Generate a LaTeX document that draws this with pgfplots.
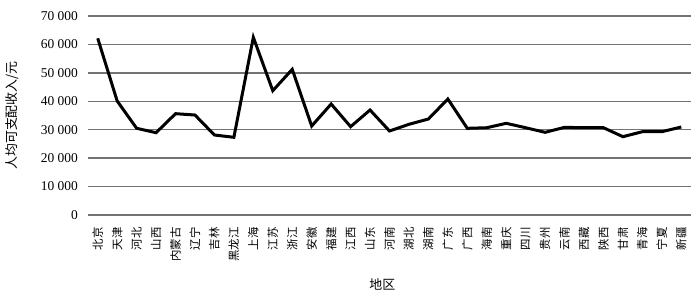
\documentclass[border=0pt]{standalone}
\usepackage{fontspec}
\setmainfont{Liberation Serif}
\newfontfamily\cjk{Noto Sans CJK SC}
\usepackage{pgfplots}
\pgfplotsset{compat=1.18}
\begin{document}
\begin{tikzpicture}
\useasboundingbox (-88bp,-82bp) rectangle (608bp,215bp);
\begin{axis}[
  at={(0,0)}, anchor=south west,
  scale only axis, width=603bp, height=199bp,
  xmin=-0.5, xmax=30.5, ymin=0, ymax=70000,
  axis line style={draw=none},
  ytick={0,10000,...,70000},
  xtick={0,...,30},
  xticklabels={北京,天津,河北,山西,内蒙古,辽宁,吉林,黑龙江,上海,江苏,浙江,安徽,福建,江西,山东,河南,湖北,湖南,广东,广西,海南,重庆,四川,贵州,云南,西藏,陕西,甘肃,青海,宁夏,新疆},
  xticklabel style={rotate=90, anchor=east, font=\cjk\fontsize{11.5}{11.5}\selectfont, inner sep=0pt, xshift=0bp},
  yticklabel style={font=\fontsize{13.5}{13.5}\selectfont, inner sep=0pt},
  xtick pos=bottom, major tick length=0pt,
  xticklabel shift=12bp, yticklabel shift=10bp,
  scaled y ticks=false,
  /pgf/number format/1000 sep={\ },
  /pgf/number format/assume math mode=true,
  ymajorgrids, grid style={black!55, line width=1.3bp},
  ylabel={人均可支配收入/元}, xlabel={地区},
  ylabel style={font=\cjk\fontsize{13}{13}\selectfont, at={(axis description cs:-0.126,0.5)}, anchor=center},
  xlabel style={font=\cjk\fontsize{13}{13}\selectfont, at={(axis description cs:0.488,-0.347)}, anchor=center},
]
\addplot[black, line width=3bp, line join=miter, mark=none] coordinates {
(0,62150) (1,40100) (2,30500) (3,28950) (4,35640) (5,35170) (6,28140) (7,27330)
(8,62500) (9,43720) (10,51240) (11,31300) (12,39040) (13,31070) (14,36930)
(15,29550) (16,31900) (17,33770) (18,40800) (19,30490) (20,30700) (21,32250)
(22,30700) (23,29080) (24,30840) (25,30700) (26,30700) (27,27550) (28,29300)
(29,29300) (30,30950)
};
\end{axis}
\end{tikzpicture}
\end{document}
